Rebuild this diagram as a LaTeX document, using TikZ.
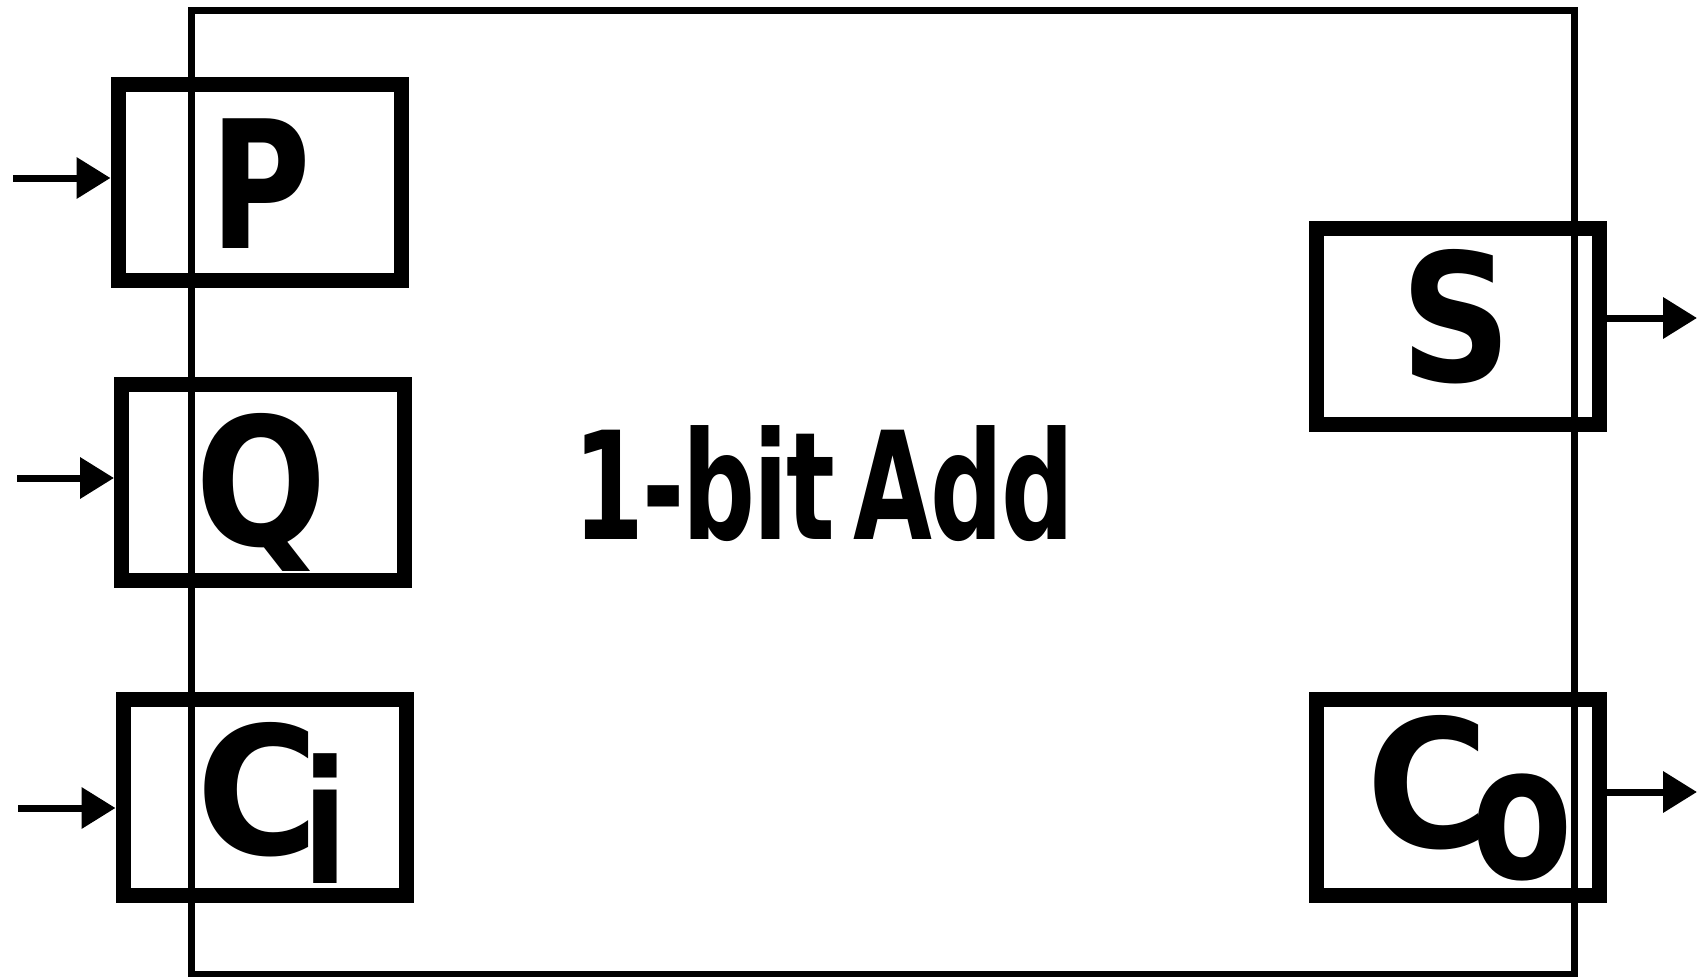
\documentclass[tikz,border=0pt]{standalone}
\usepackage{fontspec}
\setmainfont{DejaVu Sans}
\usetikzlibrary{arrows.meta}
\newcommand{\tk}{\kern-3pt}
\begin{document}
\begin{tikzpicture}[x=1pt,y=-1pt,
  mainbox/.style={draw,line width=7pt,minimum width=1383.5pt,minimum height=963.5pt,inner sep=0pt},
  portbox/.style={draw,line width=15pt,minimum width=283pt,minimum height=196pt,inner sep=0pt},
  lbl/.style={inner sep=0pt,anchor=base,font=\bfseries\fontsize{178}{200}\selectfont},
  title/.style={inner sep=0pt,anchor=base,font=\bfseries\fontsize{150}{170}\selectfont},
  sig/.style={line width=7pt,-{Triangle[length=34pt,width=40pt]}}
]
\useasboundingbox (0,0) rectangle (1698,977);
\node[mainbox] (add) at (882.75,492.25) {};
\node[portbox] (P) at (259.5,182) {};
\node[portbox] (Q) at (263,482) {};
\node[portbox] (Ci) at (264.5,797) {};
\node[portbox] (S) at (1458,326) {};
\node[portbox] (Co) at (1458,797) {};
\node[lbl] (tP) at (261,248) {\scalebox{0.77}[1]{P}};
\node[lbl] (tQ) at (261.5,545) {\scalebox{0.87}[1]{Q}};
\node[lbl] (tS) at (1456,381) {\scalebox{0.87}[1]{S}};
\node[lbl,anchor=base west] (tCi) at (196.4,854) {\scalebox{0.94}[1]{C}\kern-17.2pt\raisebox{-29pt}{\scalebox{0.75}[0.96]{i}}};
\node[lbl,anchor=base west] (tCo) at (1366.5,847) {\scalebox{0.94}[1]{C}\kern-17.6pt\raisebox{-31pt}{\scalebox{0.83}[1.05]{o}}};
\node[title] (tAdd) at (824,539) {\scalebox{0.68}[1]{1\tk-\tk b\tk i\tk t \kern-26pt A\tk d\tk d}};
\coordinate (inP) at (13,178);
\coordinate (inQ) at (17,478);
\coordinate (inCi) at (18,808);
\coordinate (outS) at (1697,318);
\coordinate (outCo) at (1697,792);
\draw[sig] (inP) -- (inP -| P.west);
\draw[sig] (inQ) -- (inQ -| Q.west);
\draw[sig] (inCi) -- (inCi -| Ci.west);
\draw[sig] (outS -| S.east) -- (outS);
\draw[sig] (outCo -| Co.east) -- (outCo);
\end{tikzpicture}
\end{document}
